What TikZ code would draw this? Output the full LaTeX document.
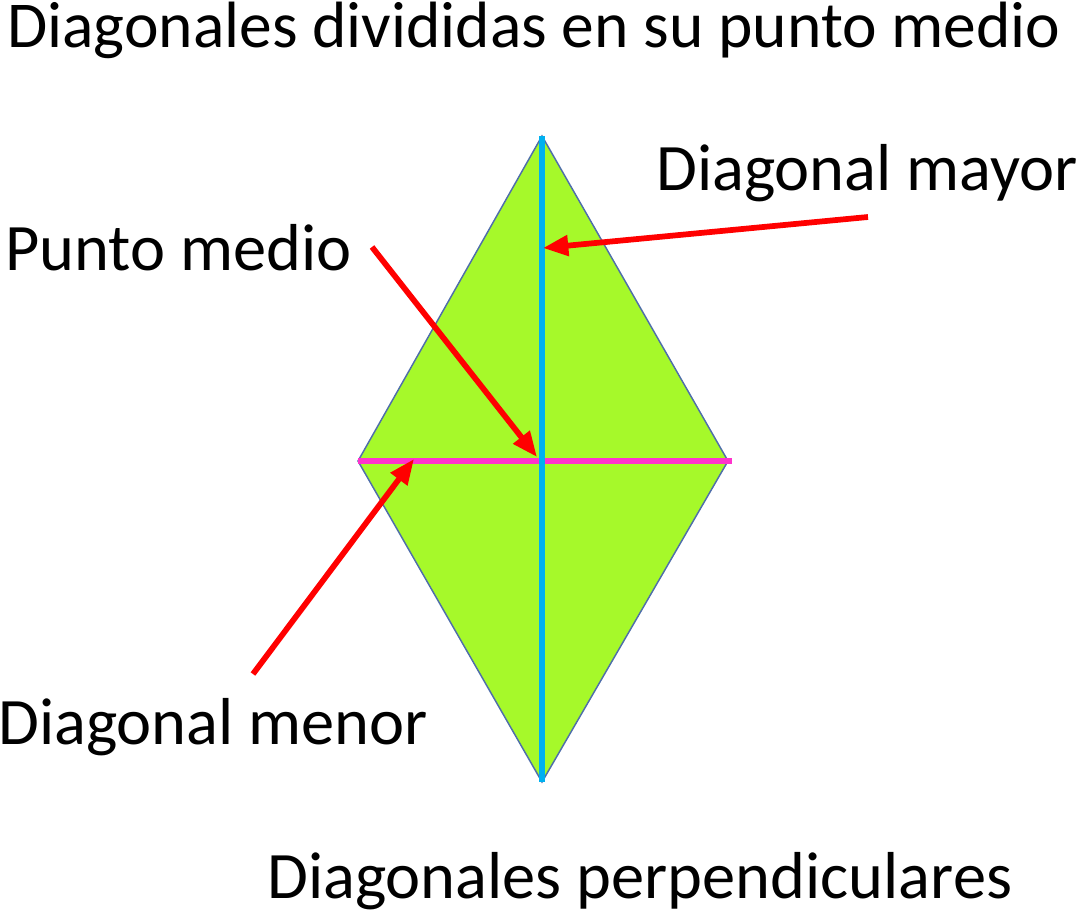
\documentclass[tikz,border=0pt]{standalone}
\usepackage{fontspec}
\setmainfont{Carlito}
\usetikzlibrary{arrows.meta}
\definecolor{rhgreen}{RGB}{166,249,42}
\definecolor{rhedge}{RGB}{79,110,170}
\definecolor{diagblue}{RGB}{0,176,240}
\definecolor{diagpink}{RGB}{255,51,204}
\tikzset{
  lbl/.style={inner sep=0pt, anchor=base west, font=\fontsize{49.8pt}{54pt}\selectfont},
  ttl/.style={inner sep=0pt, anchor=base west, font=\fontsize{49.1pt}{54pt}\selectfont},
  redarrow/.style={draw=red, line width=4.3pt, -{Triangle[length=19pt,width=15pt]}},
}
\begin{document}
\begin{tikzpicture}[x=0.75pt,y=-0.75pt]
\useasboundingbox (0,0) rectangle (1078,914);
% rhombus vertices
\coordinate (T) at (542,136);
\coordinate (L) at (358,461);
\coordinate (R) at (728,461);
\coordinate (B) at (542,782);
\coordinate (Rx) at (732,461);
\filldraw[fill=rhgreen, draw=rhedge, line width=1.1pt] (T) -- (R) -- (B) -- (L) -- cycle;
\draw[diagpink, line width=4.5pt] (L) -- (Rx);
\draw[diagblue, line width=4pt] (T) -- (B);
% texts
\node[ttl] (title) at (7,47) {Diagonales divididas en su punto medio};
\node[lbl] (mayor) at (656,190) {Diagonal mayor};
\node[lbl] (medio) at (5,270) {Punto medio};
\node[lbl] (menor) at (-2,744) {Diagonal menor};
\node[lbl] (perp) at (267,898) {Diagonales perpendiculares};
% arrows
\coordinate (a1s) at (868,217);
\coordinate (a1e) at (543,248);
\coordinate (a2s) at (372,247);
\coordinate (a2e) at (537,457);
\coordinate (a3s) at (253,674);
\coordinate (a3e) at (414,459);
\draw[redarrow] (a1s) -- (a1e);
\draw[redarrow] (a2s) -- (a2e);
\draw[redarrow] (a3s) -- (a3e);
\end{tikzpicture}
\end{document}
